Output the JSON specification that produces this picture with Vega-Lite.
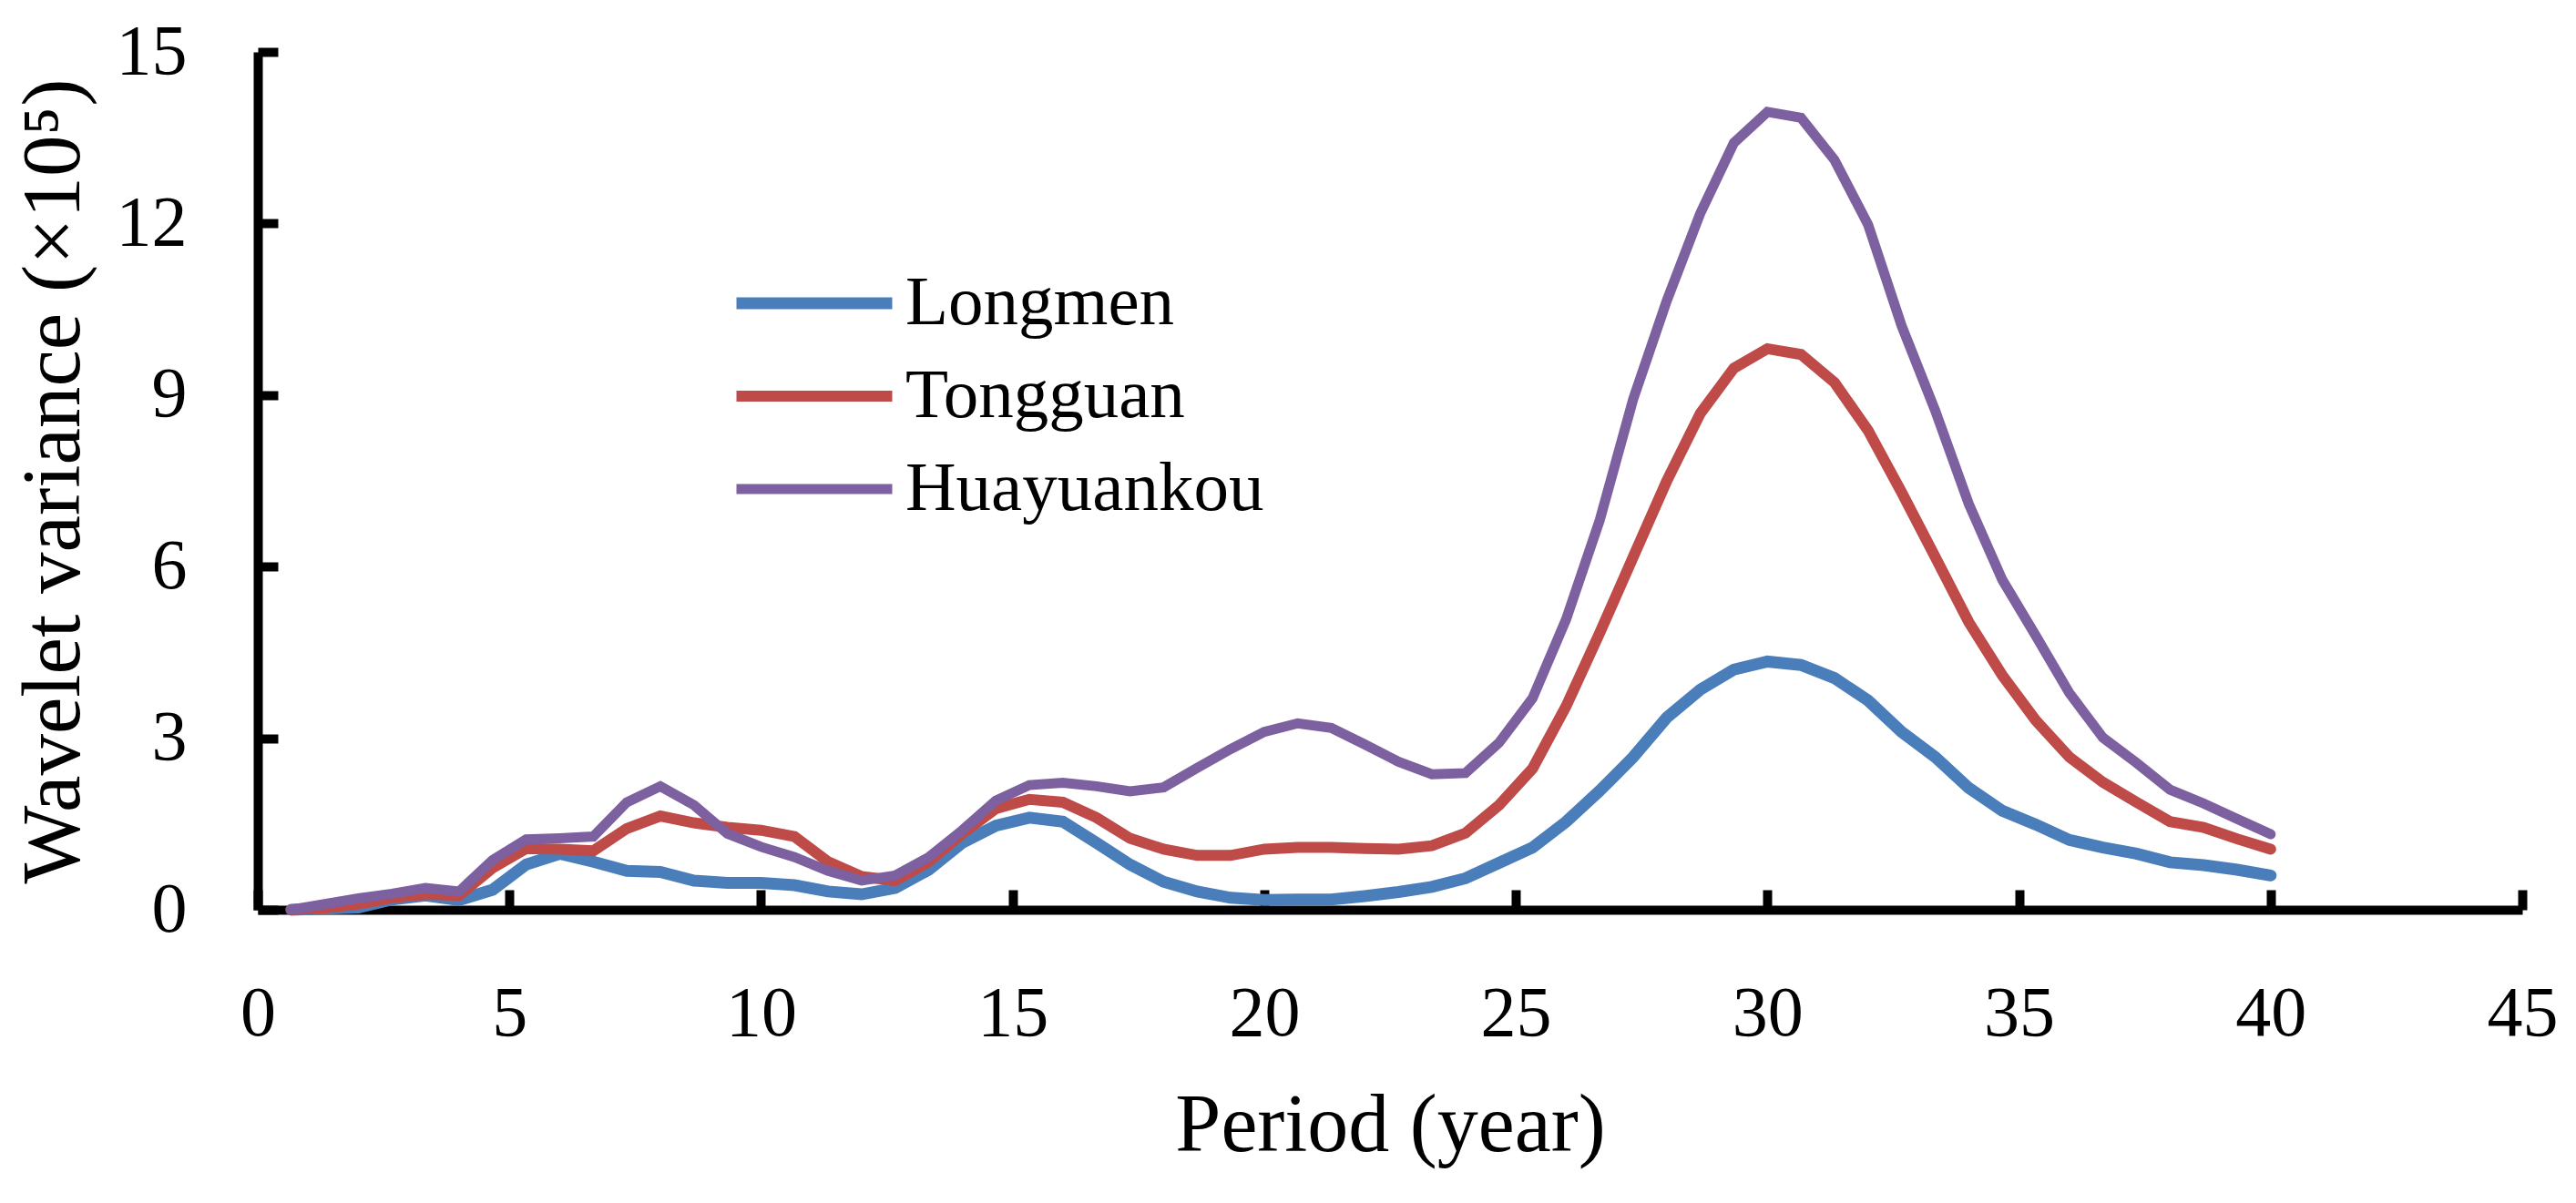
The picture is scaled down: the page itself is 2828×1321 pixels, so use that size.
{
  "$schema": "https://vega.github.io/schema/vega-lite/v6.json",
  "width": 2486,
  "height": 942,
  "autosize": {"type": "none"},
  "padding": {"left": 283, "top": 57, "right": 59, "bottom": 322},
  "background": "white",
  "config": {"view": {"stroke": null}, "font": "Liberation Serif"},
  "data": {
    "values": [
      {"period": 0.667, "Longmen": 0, "Tongguan": 0, "Huayuankou": 0},
      {"period": 1.333, "Longmen": 0.02, "Tongguan": 0.03, "Huayuankou": 0.1},
      {"period": 2, "Longmen": 0.04, "Tongguan": 0.1, "Huayuankou": 0.2},
      {"period": 2.667, "Longmen": 0.18, "Tongguan": 0.21, "Huayuankou": 0.28},
      {"period": 3.333, "Longmen": 0.25, "Tongguan": 0.27, "Huayuankou": 0.38},
      {"period": 4, "Longmen": 0.17, "Tongguan": 0.25, "Huayuankou": 0.32},
      {"period": 4.667, "Longmen": 0.35, "Tongguan": 0.73, "Huayuankou": 0.87},
      {"period": 5.333, "Longmen": 0.79, "Tongguan": 1.07, "Huayuankou": 1.23},
      {"period": 6, "Longmen": 0.98, "Tongguan": 1.06, "Huayuankou": 1.25},
      {"period": 6.667, "Longmen": 0.84, "Tongguan": 1.03, "Huayuankou": 1.28},
      {"period": 7.333, "Longmen": 0.68, "Tongguan": 1.42, "Huayuankou": 1.88},
      {"period": 8, "Longmen": 0.66, "Tongguan": 1.64, "Huayuankou": 2.16},
      {"period": 8.667, "Longmen": 0.51, "Tongguan": 1.52, "Huayuankou": 1.83},
      {"period": 9.333, "Longmen": 0.47, "Tongguan": 1.44, "Huayuankou": 1.33},
      {"period": 10, "Longmen": 0.47, "Tongguan": 1.39, "Huayuankou": 1.1},
      {"period": 10.667, "Longmen": 0.43, "Tongguan": 1.28, "Huayuankou": 0.92},
      {"period": 11.333, "Longmen": 0.32, "Tongguan": 0.84, "Huayuankou": 0.68},
      {"period": 12, "Longmen": 0.27, "Tongguan": 0.58, "Huayuankou": 0.51},
      {"period": 12.667, "Longmen": 0.38, "Tongguan": 0.51, "Huayuankou": 0.6},
      {"period": 13.333, "Longmen": 0.7, "Tongguan": 0.84, "Huayuankou": 0.92},
      {"period": 14, "Longmen": 1.17, "Tongguan": 1.33, "Huayuankou": 1.39},
      {"period": 14.667, "Longmen": 1.47, "Tongguan": 1.77, "Huayuankou": 1.91},
      {"period": 15.333, "Longmen": 1.61, "Tongguan": 1.93, "Huayuankou": 2.18},
      {"period": 16, "Longmen": 1.54, "Tongguan": 1.88, "Huayuankou": 2.22},
      {"period": 16.667, "Longmen": 1.17, "Tongguan": 1.61, "Huayuankou": 2.16},
      {"period": 17.333, "Longmen": 0.79, "Tongguan": 1.25, "Huayuankou": 2.07},
      {"period": 18, "Longmen": 0.49, "Tongguan": 1.06, "Huayuankou": 2.14},
      {"period": 18.667, "Longmen": 0.32, "Tongguan": 0.95, "Huayuankou": 2.48},
      {"period": 19.333, "Longmen": 0.21, "Tongguan": 0.95, "Huayuankou": 2.81},
      {"period": 20, "Longmen": 0.17, "Tongguan": 1.06, "Huayuankou": 3.11},
      {"period": 20.667, "Longmen": 0.18, "Tongguan": 1.09, "Huayuankou": 3.26},
      {"period": 21.333, "Longmen": 0.18, "Tongguan": 1.09, "Huayuankou": 3.18},
      {"period": 22, "Longmen": 0.24, "Tongguan": 1.07, "Huayuankou": 2.89},
      {"period": 22.667, "Longmen": 0.31, "Tongguan": 1.06, "Huayuankou": 2.59},
      {"period": 23.333, "Longmen": 0.4, "Tongguan": 1.12, "Huayuankou": 2.37},
      {"period": 24, "Longmen": 0.55, "Tongguan": 1.34, "Huayuankou": 2.39},
      {"period": 24.667, "Longmen": 0.82, "Tongguan": 1.83, "Huayuankou": 2.92},
      {"period": 25.333, "Longmen": 1.09, "Tongguan": 2.47, "Huayuankou": 3.7},
      {"period": 26, "Longmen": 1.54, "Tongguan": 3.56, "Huayuankou": 5.08},
      {"period": 26.667, "Longmen": 2.08, "Tongguan": 4.84, "Huayuankou": 6.81},
      {"period": 27.333, "Longmen": 2.67, "Tongguan": 6.17, "Huayuankou": 8.93},
      {"period": 28, "Longmen": 3.36, "Tongguan": 7.5, "Huayuankou": 10.65},
      {"period": 28.667, "Longmen": 3.85, "Tongguan": 8.68, "Huayuankou": 12.18},
      {"period": 29.333, "Longmen": 4.2, "Tongguan": 9.47, "Huayuankou": 13.41},
      {"period": 30, "Longmen": 4.34, "Tongguan": 9.81, "Huayuankou": 13.95},
      {"period": 30.667, "Longmen": 4.28, "Tongguan": 9.71, "Huayuankou": 13.85},
      {"period": 31.333, "Longmen": 4.05, "Tongguan": 9.22, "Huayuankou": 13.11},
      {"period": 32, "Longmen": 3.66, "Tongguan": 8.38, "Huayuankou": 11.98},
      {"period": 32.667, "Longmen": 3.11, "Tongguan": 7.3, "Huayuankou": 10.21},
      {"period": 33.333, "Longmen": 2.67, "Tongguan": 6.17, "Huayuankou": 8.73},
      {"period": 34, "Longmen": 2.13, "Tongguan": 5.03, "Huayuankou": 7.1},
      {"period": 34.667, "Longmen": 1.73, "Tongguan": 4.1, "Huayuankou": 5.77},
      {"period": 35.333, "Longmen": 1.49, "Tongguan": 3.31, "Huayuankou": 4.79},
      {"period": 36, "Longmen": 1.22, "Tongguan": 2.67, "Huayuankou": 3.79},
      {"period": 36.667, "Longmen": 1.09, "Tongguan": 2.23, "Huayuankou": 3.01},
      {"period": 37.333, "Longmen": 0.98, "Tongguan": 1.88, "Huayuankou": 2.57},
      {"period": 38, "Longmen": 0.83, "Tongguan": 1.54, "Huayuankou": 2.1},
      {"period": 38.667, "Longmen": 0.78, "Tongguan": 1.44, "Huayuankou": 1.86},
      {"period": 39.333, "Longmen": 0.7, "Tongguan": 1.24, "Huayuankou": 1.59},
      {"period": 40, "Longmen": 0.6, "Tongguan": 1.06, "Huayuankou": 1.32}
    ]
  },
  "transform": [
    {"fold": ["Longmen", "Tongguan", "Huayuankou"], "as": ["station", "variance"]}
  ],
  "mark": {"type": "line", "strokeCap": "round", "clip": false},
  "encoding": {
    "x": {
      "field": "period",
      "type": "quantitative",
      "scale": {"domain": [0, 45], "nice": false},
      "axis": {
        "title": "Period (year)",
        "values": [0, 5, 10, 15, 20, 25, 30, 35, 40, 45],
        "grid": false,
        "domainColor": "black",
        "domainWidth": 10,
        "tickColor": "black",
        "tickWidth": 10,
        "tickSize": -22,
        "labelPadding": 97,
        "labelFontSize": 78,
        "labelColor": "black",
        "labelFlush": false,
        "titleFontSize": 90,
        "titleFontWeight": "normal",
        "titleColor": "black",
        "titlePadding": 40
      }
    },
    "y": {
      "field": "variance",
      "type": "quantitative",
      "scale": {"domain": [0, 15], "nice": false},
      "axis": {
        "title": "Wavelet variance (×10⁵)",
        "values": [0, 3, 6, 9, 12, 15],
        "grid": false,
        "domainColor": "black",
        "domainWidth": 10,
        "tickColor": "black",
        "tickWidth": 10,
        "tickSize": -22,
        "labelPadding": 100,
        "labelFontSize": 78,
        "labelColor": "black",
        "labelFlush": false,
        "titleFontSize": 91,
        "titleFontWeight": "normal",
        "titleColor": "black",
        "titlePadding": 22
      }
    },
    "color": {
      "field": "station",
      "type": "nominal",
      "scale": {
        "domain": ["Longmen", "Tongguan", "Huayuankou"],
        "range": ["#4A7EBB", "#BE4B48", "#7D60A0"]
      },
      "legend": {
        "title": null,
        "orient": "none",
        "legendX": 519,
        "legendY": 225,
        "symbolType": "stroke",
        "symbolSize": 29241,
        "symbolStrokeWidth": 11,
        "labelFontSize": 77,
        "labelColor": "black",
        "labelOffset": 8,
        "labelLimit": 0,
        "clipHeight": 102,
        "rowPadding": 0
      }
    },
    "strokeWidth": {
      "field": "station",
      "type": "nominal",
      "scale": {"domain": ["Longmen", "Tongguan", "Huayuankou"], "range": [13, 11, 11]},
      "legend": null
    }
  }
}
